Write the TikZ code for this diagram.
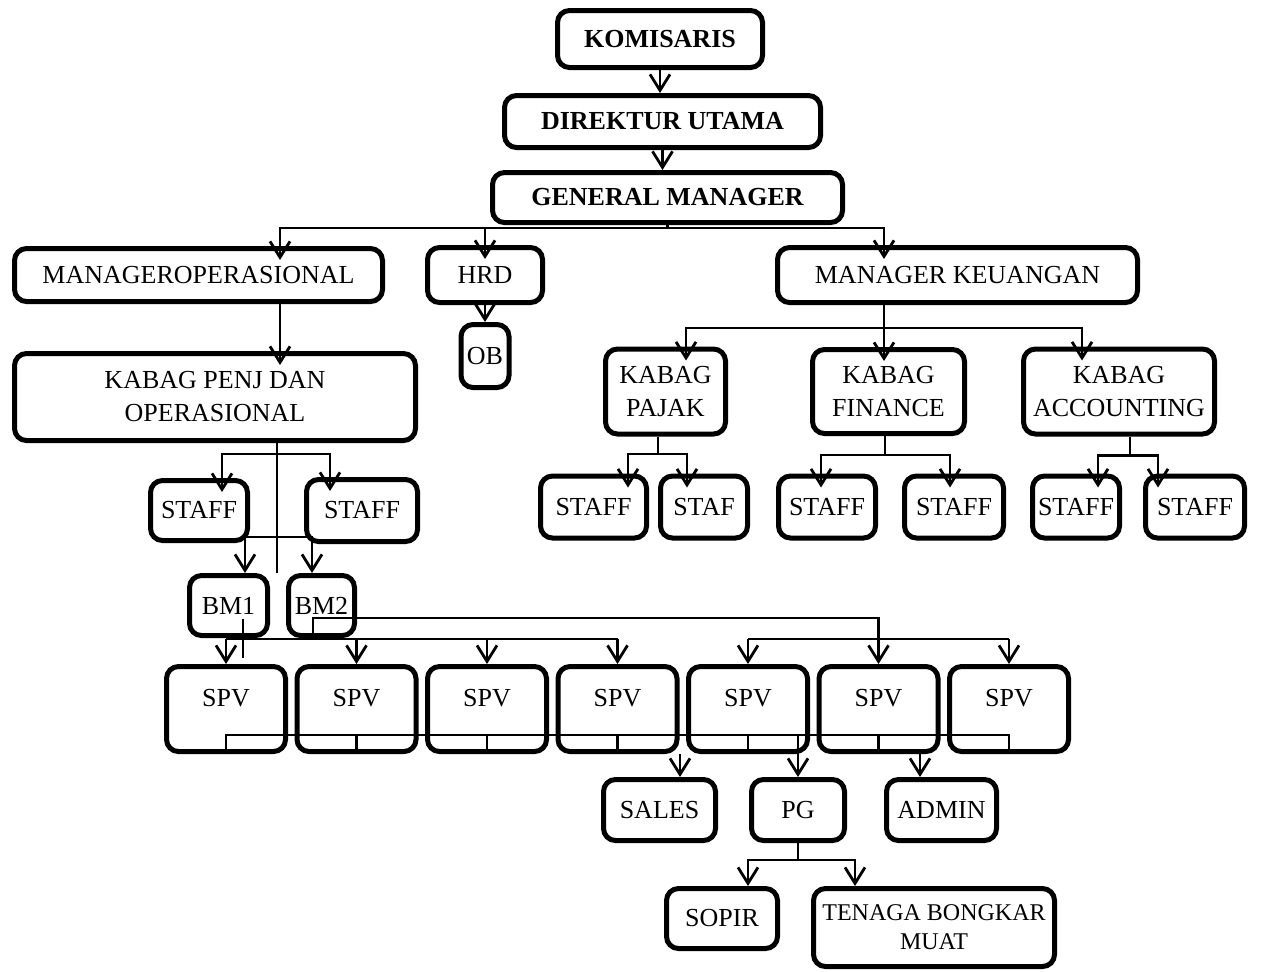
\documentclass[tikz,border=0pt]{standalone}
\usepackage{fontspec}
\setmainfont{Liberation Serif}
\usetikzlibrary{positioning,arrows.meta}

\begin{document}
\begin{tikzpicture}[x=0.5pt, y=-0.5pt, on grid, line width=1.4pt, >={Straight Barb[length=8pt,width=10pt]},
		box/.style={draw, line width=2.5pt, rounded corners=6pt, align=center, inner sep=2pt, font=\fontsize{13}{16.5}\selectfont},
		chief/.style={box, font=\fontsize{13}{16.5}\selectfont\bfseries},
		spv/.style={box, minimum width=59.5pt, minimum height=42.5pt, text depth=11pt},
		deep/.style={shorten >=-7pt}]
		\useasboundingbox (0,0) rectangle (1264,971);

		% top of the chart
		\node[chief, minimum width=102.5pt, minimum height=28.5pt](kom) at (660,39){KOMISARIS};
		\node[chief, minimum width=158pt, minimum height=26pt](dirut)[below right=41.25pt and 1.25pt of kom]{DIREKTUR UTAMA};
		\node[chief, minimum width=175pt, minimum height=25pt](gm)[below right=38pt and 2.5pt of dirut]{GENERAL MANAGER};

		\node[box, minimum width=57.5pt, minimum height=27.5pt](hrd)[below left=38.75pt and 91.25pt of gm]{HRD};
		\node[box, minimum width=184pt, minimum height=26.5pt](mop)[left=143.25pt of hrd]{MANAGEROPERASIONAL};
		\node[box, minimum width=180pt, minimum height=27.5pt](mkeu)[right=236.25pt of hrd]{MANAGER KEUANGAN};
		\node[box, minimum width=24pt, minimum height=31.5pt](ob)[below=40.5pt of hrd]{OB};

		\node[box, minimum width=200.5pt, minimum height=43.5pt](kpenj)[below right=61pt and 8.25pt of mop]{KABAG PENJ DAN\\OPERASIONAL};
		\node[box, minimum width=76pt, minimum height=42pt](kfin)[below left=58.25pt and 34.5pt of mkeu]{KABAG\\FINANCE};
		\node[box, minimum width=60pt, minimum height=42.5pt](kpajak)[left=111.5pt of kfin]{KABAG\\PAJAK};
		\node[box, minimum width=95.5pt, minimum height=42.5pt](kacc)[right=115.25pt of kfin]{KABAG\\ACCOUNTING};

		% staff rows
		\node[box, minimum width=48.5pt, minimum height=30pt](st1)[below left=56.75pt and 8pt of kpenj]{STAFF};
		\node[box, minimum width=55.5pt, minimum height=31pt](st2)[right=81.5pt of st1]{STAFF};
		\node[box, minimum width=53pt, minimum height=31pt](sp1)[below left=57.75pt and 36pt of kpajak]{STAFF};
		\node[box, minimum width=43.5pt, minimum height=31pt](sp2)[right=55.25pt of sp1]{STAF};
		\node[box, minimum width=48.5pt, minimum height=31pt](sf1)[right=61.5pt of sp2]{STAFF};
		\node[box, minimum width=49.5pt, minimum height=31pt](sf2)[right=63.5pt of sf1]{STAFF};
		\node[box, minimum width=43.5pt, minimum height=31pt](sa1)[right=61pt of sf2]{STAFF};
		\node[box, minimum width=49.5pt, minimum height=31pt](sa2)[right=59.5pt of sa1]{STAFF};

		\node[box, minimum width=39pt, minimum height=30pt](bm1)[below right=47.5pt and 14.75pt of st1]{BM1};
		\node[box, minimum width=33pt, minimum height=30pt](bm2)[right=46.5pt of bm1]{BM2};

		\node[spv](spv1)[below left=51.75pt and 1.25pt of bm1]{SPV};
		\node[spv](spv2)[right=65.25pt of spv1]{SPV};
		\node[spv](spv3)[right=65.25pt of spv2]{SPV};
		\node[spv](spv4)[right=65.25pt of spv3]{SPV};
		\node[spv](spv5)[right=65.25pt of spv4]{SPV};
		\node[spv](spv6)[right=65.25pt of spv5]{SPV};
		\node[spv](spv7)[right=65.25pt of spv6]{SPV};

		\node[box, minimum width=56pt, minimum height=30.5pt](sales)[below right=50.5pt and 21pt of spv4]{SALES};
		\node[box, minimum width=46.5pt, minimum height=30.5pt](pg)[right=69.25pt of sales]{PG};
		\node[box, minimum width=55pt, minimum height=30.5pt](admin)[right=71.75pt of pg]{ADMIN};
		\node[box, minimum width=55.5pt, minimum height=30pt](sopir)[below left=54.25pt and 38pt of pg]{SOPIR};
		\node[box, minimum width=120.5pt, minimum height=39pt, font=\fontsize{12}{14.5}\selectfont](tbm)[below right=4.5pt and 106pt of sopir]{TENAGA BONGKAR\\MUAT};

		% connectors
		\path[->]
		(kom.south) edge (kom.south |- dirut.north)
		(dirut.south) edge (dirut.south |- gm.north)
		(hrd.south) edge (ob.north);

		\draw[->,deep] (gm.south) -- ++(0,-1.5pt) -| ([xshift=40.75pt]mop.north);
		\draw[->,deep] ([yshift=-1.5pt]gm.south) -| (hrd.north);
		\draw[->,deep] ([yshift=-1.5pt]gm.south) -| ([xshift=-36.75pt]mkeu.north);
		\draw[->,deep] ([xshift=40.75pt]mop.south) -- ([xshift=32.5pt]kpenj.north);

		\draw ([xshift=-36.75pt]mkeu.south) -- ++(0,-11.5pt) coordinate (kbus);
		\draw[->,deep] (kbus) -| ([xshift=10.25pt]kpajak.north);
		\draw[->,deep] (kbus) -| ([xshift=-2.25pt]kfin.north);
		\draw[->,deep] (kbus) -| ([xshift=-18.5pt]kacc.north);

		\draw ([xshift=31pt]kpenj.south) -- ([xshift=31pt]kpenj.south |- bm1.north);
		\draw[->,deep] ([xshift=31pt,yshift=-5.5pt]kpenj.south) -| ([xshift=11.5pt]st1.north);
		\draw[->,deep] ([xshift=31pt,yshift=-5.5pt]kpenj.south) -| ([xshift=-16pt]st2.north);
		\draw[->] ([xshift=31pt,yshift=18pt]kpenj.south |- bm1.north) -| ([xshift=8.25pt]bm1.north);
		\draw[->] ([xshift=31pt,yshift=18pt]kpenj.south |- bm1.north) -| ([xshift=-4.75pt]bm2.north);

		\draw ([xshift=-3.75pt]kpajak.south) -- ++(0,-8.75pt) coordinate (pjbus);
		\draw[->,deep] (pjbus) -| ([xshift=17.25pt]sp1.north);
		\draw[->,deep] (pjbus) -| ([xshift=-8.5pt]sp2.north);
		\draw ([xshift=-1.75pt]kfin.south) -- ++(0,-9.5pt) coordinate (fnbus);
		\draw[->,deep] (fnbus) -| ([xshift=-3pt]sf1.north);
		\draw[->,deep] (fnbus) -| ([xshift=-2pt]sf2.north);
		\draw ([xshift=5.5pt]kacc.south) -- ++(0,-9.5pt) coordinate (acbus);
		\draw[->,deep] (acbus) -| ([xshift=11pt]sa1.north);
		\draw[->,deep] (acbus) -| ([xshift=-18.5pt]sa2.north);

		% branch managers to supervisors
		\coordinate (b1bus) at ([yshift=-0.5pt]bm1.south);
		\draw ([xshift=7.25pt,yshift=9.5pt]bm1.south) -- ++(0,-19.5pt);
		\draw (b1bus -| spv1.north) -- (b1bus -| spv4.north);
		\path[->]
		(b1bus -| spv1.north) edge (spv1.north)
		(b1bus -| spv2.north) edge (spv2.north)
		(b1bus -| spv3.north) edge (spv3.north)
		(b1bus -| spv4.north) edge (spv4.north);

		\draw ([xshift=-4.25pt,yshift=2.5pt]bm2.south) -- ([xshift=-4.25pt,yshift=10pt]bm2.south) -| (b1bus -| spv6.north);
		\draw (b1bus -| spv5.north) -- (b1bus -| spv7.north);
		\path[->]
		(b1bus -| spv5.north) edge (spv5.north)
		(b1bus -| spv6.north) edge (spv6.north)
		(b1bus -| spv7.north) edge (spv7.north);

		% supervisors to sales, pg, admin
		\coordinate (sbus) at ([yshift=9.5pt]spv1.south);
		\draw (spv1.south) -- (sbus) -- (sbus -| spv7.south) -- (spv7.south);
		\draw (sbus -| spv2.south) -- (spv2.south) (sbus -| spv3.south) -- (spv3.south)
		(sbus -| spv4.south) -- (spv4.south) (sbus -| spv5.south) -- (spv5.south)
		(sbus -| spv6.south) -- (spv6.south);
		\coordinate (salesin) at ([xshift=10.25pt]sales.north);
		\coordinate (adminin) at ([xshift=-10.75pt]admin.north);
		\path[->]
		(spv4.south -| salesin) edge (salesin)
		(sbus -| pg.north) edge (pg.north)
		(spv6.south -| adminin) edge (adminin);

		\draw (pg.south) -- ++(0,-8.5pt) coordinate (pgbus);
		\draw[->] (pgbus) -| ([xshift=13pt]sopir.north);
		\draw[->] (pgbus) -| ([xshift=-39.5pt]tbm.north);
	\end{tikzpicture}
\end{document}
